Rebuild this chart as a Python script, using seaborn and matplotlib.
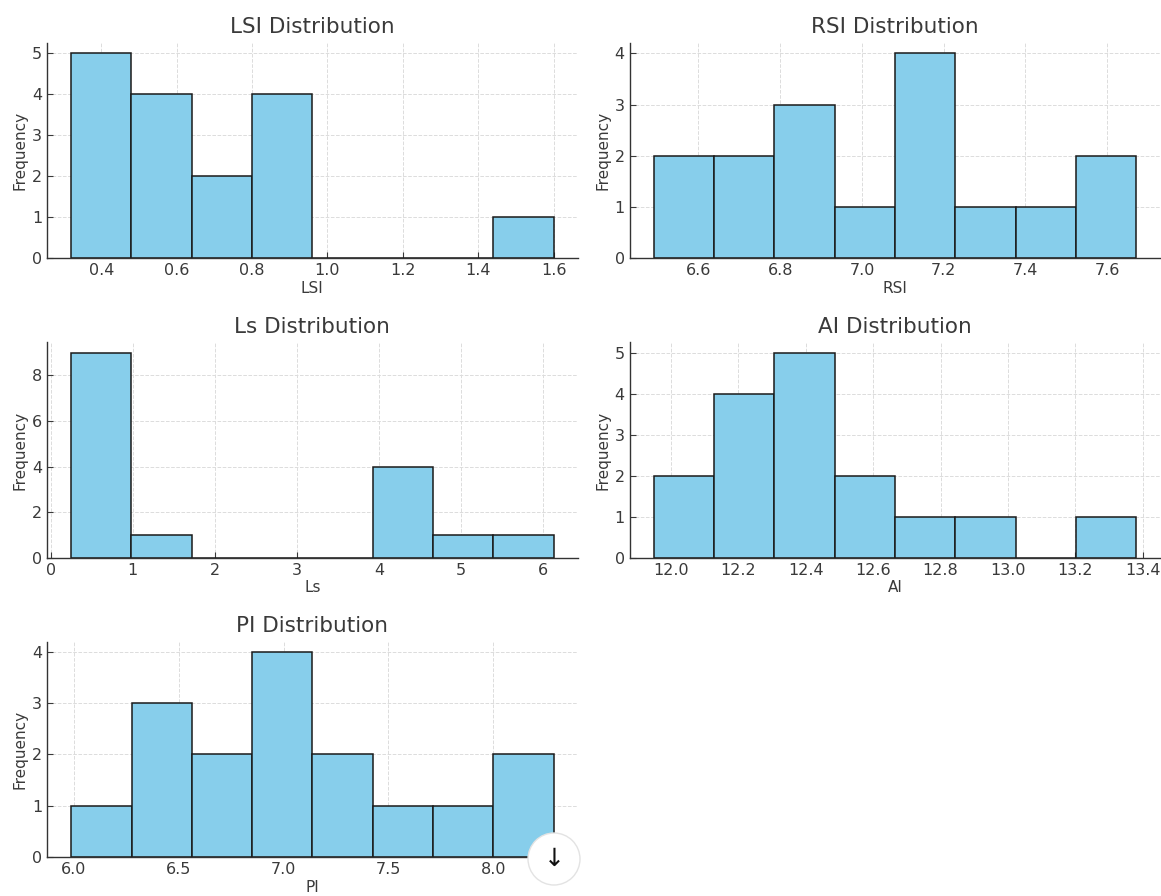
import numpy as np
import pandas as pd
import matplotlib
matplotlib.use("Agg")
import matplotlib.pyplot as plt
from matplotlib.ticker import MultipleLocator
from matplotlib.patches import Ellipse
import seaborn as sns

# ---- data (bin edges and counts per variable) ----
variables = ["LSI", "RSI", "Ls", "AI", "PI"]

lsi_edges = [0.320, 0.480, 0.640, 0.800, 0.960, 1.120, 1.280, 1.440, 1.600]
lsi_counts = [5, 4, 2, 4, 0, 0, 0, 1]

rsi_edges = [6.491, 6.6385, 6.786, 6.9335, 7.081, 7.2285, 7.376, 7.5235, 7.671]
rsi_counts = [2, 2, 3, 1, 4, 1, 1, 2]

ls_edges = [0.248, 0.983, 1.718, 2.453, 3.188, 3.923, 4.658, 5.393, 6.128]
ls_counts = [9, 1, 0, 0, 0, 4, 1, 1]

ai_edges = [11.949, 12.128, 12.307, 12.486, 12.665, 12.844, 13.023, 13.202, 13.381]
ai_counts = [2, 4, 5, 2, 1, 1, 0, 1]

pi_edges = [5.987, 6.275, 6.562, 6.850, 7.138, 7.426, 7.713, 8.001, 8.288]
pi_counts = [1, 3, 2, 4, 2, 1, 1, 2]

tick_steps = [0.2, 0.2, 1.0, 0.2, 0.5]

all_edges = [lsi_edges, rsi_edges, ls_edges, ai_edges, pi_edges]
all_counts = [lsi_counts, rsi_counts, ls_counts, ai_counts, pi_counts]

# ---- style ----
sns.set_style("white")
text_col = "#3a3a3a"
plt.rcParams.update({
    "font.family": ["DejaVu Sans"],
    "axes.grid": True,
    "grid.linestyle": "--",
    "grid.color": "#dcdcdc",
    "grid.linewidth": 0.7,
    "axes.edgecolor": "#333333",
    "axes.linewidth": 1.0,
    "axes.spines.top": False,
    "axes.spines.right": False,
    "xtick.direction": "in",
    "ytick.direction": "in",
    "xtick.bottom": True,
    "ytick.left": True,
    "xtick.major.size": 4,
    "ytick.major.size": 4,
    "xtick.color": text_col,
    "ytick.color": text_col,
    "xtick.labelsize": 11.5,
    "ytick.labelsize": 11.5,
    "axes.labelcolor": text_col,
    "axes.labelsize": 11,
    "axes.titlesize": 15.5,
    "axes.titlecolor": text_col,
})

fig, axes = plt.subplots(3, 2, figsize=(11.61, 8.96), dpi=100)
fig.subplots_adjust(left=0.0405, right=0.9995, bottom=0.0435, top=0.952,
                    wspace=0.098, hspace=0.39)
flat = axes.flatten()

for ax, name, edges, counts, step in zip(flat, variables, all_edges, all_counts, tick_steps):
    e = np.asarray(edges, dtype=float)
    centers = ((e[:-1] + e[1:]) / 2).tolist()
    df = pd.DataFrame({name: centers, "w": counts})
    sns.histplot(data=df, x=name, weights="w", bins=list(edges), ax=ax,
                 color="#87CEEB", edgecolor="#1a1a1a", linewidth=1.1, alpha=1.0)
    ax.set_title(f"{name} Distribution", pad=7)
    ax.set_xlabel(name, labelpad=2)
    ax.set_ylabel("Frequency", labelpad=3)
    ax.xaxis.set_major_locator(MultipleLocator(step))
    ax.set_axisbelow(True)
    ax.grid(True, linestyle="--", color="#dcdcdc", linewidth=0.7)

flat[5].axis("off")

# scroll-down button overlay seen in the screenshot
btn = Ellipse((554 / 1161, 1 - 859 / 896), 52 / 1161, 52 / 896, transform=fig.transFigure,
              facecolor="white", edgecolor="#e3e3e3", linewidth=1.0, zorder=10)
fig.patches.append(btn)
fig.text(554 / 1161, 1 - 859 / 896, "↓", ha="center", va="center", fontsize=18,
         color="#111111", zorder=11)

fig.savefig("out.png", dpi=100)
